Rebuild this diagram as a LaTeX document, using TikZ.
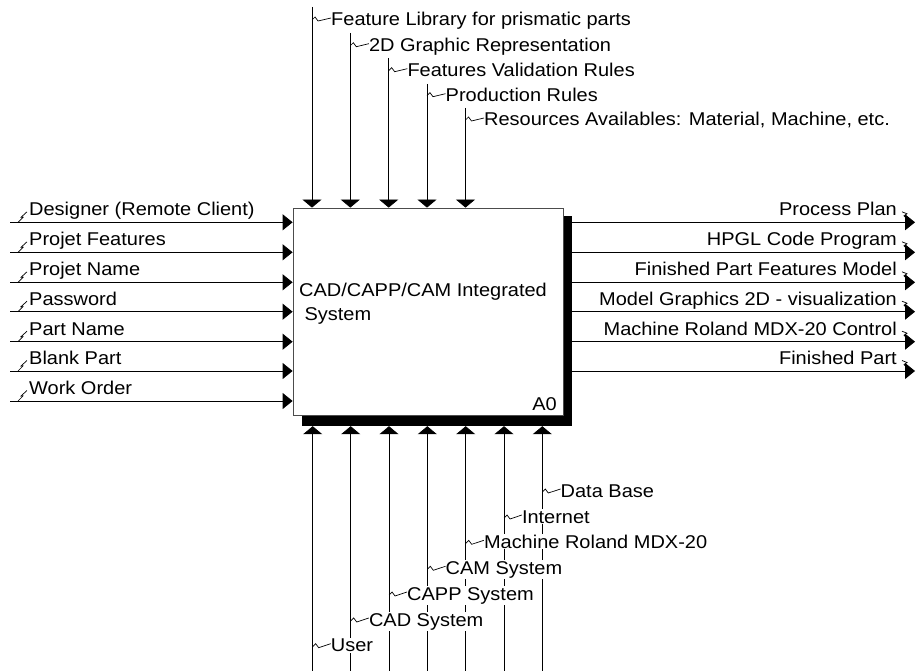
\documentclass[tikz,border=0pt]{standalone}
\usepackage{fontspec}
\setmainfont{Liberation Sans}[FakeStretch=1.08]
\usetikzlibrary{arrows.meta,positioning}

\tikzset{
  hflow/.style={line width=0.8pt, -{Triangle[length=10pt,width=16pt]}},
  vflow/.style={line width=0.8pt, -{Triangle[length=8pt,width=19pt]}},
  lbl/.style={fill=white, inner sep=1pt},
  squig/.style={line width=0.7pt},
  tsq/.style={to path={-- ++(3,-3) -- ++(3,4) -- (\tikztotarget)}},
  lsq/.style={to path={-- ++(5,-5) -- ++(-2,0) -- (\tikztotarget)}},
  rsq/.style={to path={-- ++(5,2) -- ++(-3,2) -- (\tikztotarget)}}
}

\begin{document}
\begin{tikzpicture}
            [x=1pt,y=-1pt,every node/.style={font=\fontsize{18.5}{23.3}\selectfont,inner sep=0pt}]

            \useasboundingbox (0,0) rectangle (919,671);

            % activity box with its shadow
            \node[fill=black,minimum width=270pt,minimum height=210pt] (shadow) at (437,321) {};
            \node[draw=black!70,line width=0.8pt,fill=white,minimum width=270pt,minimum height=207pt] (box) at (428,311.5) {};
            \node[anchor=base west,align=left] (title) at (299,320) {CAD/CAPP/CAM Integrated\\\hspace*{5.4pt}System};
            \node[anchor=base east] (num) at (557,410) {A0};

            % controls
            \coordinate (c1) at (312,7);
            \coordinate (c2) at (350.3,33);
            \coordinate (c3) at (388.7,58);
            \coordinate (c4) at (427,84);
            \coordinate (c5) at (465.5,108);
            \node[lbl,anchor=base west] (cl1) at (330,26) {Feature Library for prismatic parts};
            \node[lbl,anchor=base west] (cl2) at (367.8,51.7) {2D Graphic Representation};
            \node[lbl,anchor=base west] (cl3) at (406.3,76.7) {Features Validation Rules};
            \node[lbl,anchor=base west] (cl4) at (444.5,101.7) {Production Rules};
            \node[lbl,anchor=base west] (cl5) at (483,126) {Resources Availables: Material, Machine, etc.};

            \draw[vflow] (c1) -- (c1 |- box.north);
            \draw[vflow] (c2) -- (c2 |- box.north);
            \draw[vflow] (c3) -- (c3 |- box.north);
            \draw[vflow] (c4) -- (c4 |- box.north);
            \draw[vflow] (c5) -- (c5 |- box.north);
            \draw[squig] ([yshift=6pt]c1 |- cl1.base) to[tsq] ([shift={(1pt,8pt)}]cl1.base west);
            \draw[squig] ([yshift=6pt]c2 |- cl2.base) to[tsq] ([shift={(1pt,8pt)}]cl2.base west);
            \draw[squig] ([yshift=6pt]c3 |- cl3.base) to[tsq] ([shift={(1pt,8pt)}]cl3.base west);
            \draw[squig] ([yshift=6pt]c4 |- cl4.base) to[tsq] ([shift={(1pt,8pt)}]cl4.base west);
            \draw[squig] ([yshift=6pt]c5 |- cl5.base) to[tsq] ([shift={(1pt,8pt)}]cl5.base west);

            % inputs
            \coordinate (i1) at (10,222.3);
            \coordinate (i2) at (10,252.3);
            \coordinate (i3) at (10,282.3);
            \coordinate (i4) at (10,311.7);
            \coordinate (i5) at (10,341.7);
            \coordinate (i6) at (10,371);
            \coordinate (i7) at (10,401);
            \node[lbl,anchor=base west] (il1) at (28,215.8) {Designer (Remote Client)};
            \node[lbl,anchor=base west] (il2) at (28,245.8) {Projet Features};
            \node[lbl,anchor=base west] (il3) at (28,275.8) {Projet Name};
            \node[lbl,anchor=base west] (il4) at (28,305.2) {Password};
            \node[lbl,anchor=base west] (il5) at (28,335.2) {Part Name};
            \node[lbl,anchor=base west] (il6) at (28,364.5) {Blank Part};
            \node[lbl,anchor=base west] (il7) at (28,394.5) {Work Order};

            \draw[hflow] (i1) -- (i1 -| box.west);
            \draw[hflow] (i2) -- (i2 -| box.west);
            \draw[hflow] (i3) -- (i3 -| box.west);
            \draw[hflow] (i4) -- (i4 -| box.west);
            \draw[hflow] (i5) -- (i5 -| box.west);
            \draw[hflow] (i6) -- (i6 -| box.west);
            \draw[hflow] (i7) -- (i7 -| box.west);
            \draw[squig] ([xshift=-10pt]il1.base west |- i1) to[lsq] ([shift={(-1pt,4pt)}]il1.base west);
            \draw[squig] ([xshift=-10pt]il2.base west |- i2) to[lsq] ([shift={(-1pt,4pt)}]il2.base west);
            \draw[squig] ([xshift=-10pt]il3.base west |- i3) to[lsq] ([shift={(-1pt,4pt)}]il3.base west);
            \draw[squig] ([xshift=-10pt]il4.base west |- i4) to[lsq] ([shift={(-1pt,4pt)}]il4.base west);
            \draw[squig] ([xshift=-10pt]il5.base west |- i5) to[lsq] ([shift={(-1pt,4pt)}]il5.base west);
            \draw[squig] ([xshift=-10pt]il6.base west |- i6) to[lsq] ([shift={(-1pt,4pt)}]il6.base west);
            \draw[squig] ([xshift=-10pt]il7.base west |- i7) to[lsq] ([shift={(-1pt,4pt)}]il7.base west);

            % outputs
            \coordinate (o1) at (915,222.3);
            \coordinate (o2) at (915,252.3);
            \coordinate (o3) at (915,282.3);
            \coordinate (o4) at (915,311.7);
            \coordinate (o5) at (915,341.7);
            \coordinate (o6) at (915,371);
            \node[lbl,anchor=base east] (ol1) at (898,215.8) {Process Plan};
            \node[lbl,anchor=base east] (ol2) at (898,245.8) {HPGL Code Program};
            \node[lbl,anchor=base east] (ol3) at (898,275.8) {Finished Part Features Model};
            \node[lbl,anchor=base east] (ol4) at (898,305.2) {Model Graphics 2D - visualization};
            \node[lbl,anchor=base east] (ol5) at (898,335.2) {Machine Roland MDX-20 Control};
            \node[lbl,anchor=base east] (ol6) at (898,364.5) {Finished Part};

            \draw[hflow] (o1 -| shadow.east) -- (o1);
            \draw[hflow] (o2 -| shadow.east) -- (o2);
            \draw[hflow] (o3 -| shadow.east) -- (o3);
            \draw[hflow] (o4 -| shadow.east) -- (o4);
            \draw[hflow] (o5 -| shadow.east) -- (o5);
            \draw[hflow] (o6 -| shadow.east) -- (o6);
            \draw[squig] ([shift={(4pt,4pt)}]ol1.base east) to[rsq] ([xshift=12pt]ol1.base east |- o1);
            \draw[squig] ([shift={(4pt,4pt)}]ol2.base east) to[rsq] ([xshift=12pt]ol2.base east |- o2);
            \draw[squig] ([shift={(4pt,4pt)}]ol3.base east) to[rsq] ([xshift=12pt]ol3.base east |- o3);
            \draw[squig] ([shift={(4pt,4pt)}]ol4.base east) to[rsq] ([xshift=12pt]ol4.base east |- o4);
            \draw[squig] ([shift={(4pt,4pt)}]ol5.base east) to[rsq] ([xshift=12pt]ol5.base east |- o5);
            \draw[squig] ([shift={(4pt,4pt)}]ol6.base east) to[rsq] ([xshift=12pt]ol6.base east |- o6);

            % mechanisms
            \coordinate (m1) at (312.7,671);
            \coordinate (m2) at (350.7,671);
            \coordinate (m3) at (389,671);
            \coordinate (m4) at (427.3,671);
            \coordinate (m5) at (465.7,671);
            \coordinate (m6) at (504,671);
            \coordinate (m7) at (542.3,671);

            \draw[vflow] (m1) -- (m1 |- shadow.south);
            \draw[vflow] (m2) -- (m2 |- shadow.south);
            \draw[vflow] (m3) -- (m3 |- shadow.south);
            \draw[vflow] (m4) -- (m4 |- shadow.south);
            \draw[vflow] (m5) -- (m5 |- shadow.south);
            \draw[vflow] (m6) -- (m6 |- shadow.south);
            \draw[vflow] (m7) -- (m7 |- shadow.south);

            \node[lbl,anchor=base west] (ml1) at (329.7,651.7) {User};
            \node[lbl,anchor=base west] (ml2) at (367.8,626) {CAD System};
            \node[lbl,anchor=base west] (ml3) at (406,600) {CAPP System};
            \node[lbl,anchor=base west] (ml4) at (444.5,574.3) {CAM System};
            \node[lbl,anchor=base west] (ml5) at (482.8,548.3) {Machine Roland MDX-20};
            \node[lbl,anchor=base west] (ml6) at (520.8,523) {Internet};
            \node[lbl,anchor=base west] (ml7) at (559.5,497) {Data Base};
            \draw[squig] ([yshift=5pt]m1 |- ml1.base) to[tsq] ([shift={(1pt,8pt)}]ml1.base west);
            \draw[squig] ([yshift=5pt]m2 |- ml2.base) to[tsq] ([shift={(1pt,8pt)}]ml2.base west);
            \draw[squig] ([yshift=5pt]m3 |- ml3.base) to[tsq] ([shift={(1pt,8pt)}]ml3.base west);
            \draw[squig] ([yshift=5pt]m4 |- ml4.base) to[tsq] ([shift={(1pt,8pt)}]ml4.base west);
            \draw[squig] ([yshift=5pt]m5 |- ml5.base) to[tsq] ([shift={(1pt,8pt)}]ml5.base west);
            \draw[squig] ([yshift=5pt]m6 |- ml6.base) to[tsq] ([shift={(1pt,8pt)}]ml6.base west);
            \draw[squig] ([yshift=5pt]m7 |- ml7.base) to[tsq] ([shift={(1pt,8pt)}]ml7.base west);
          \end{tikzpicture}
\end{document}
